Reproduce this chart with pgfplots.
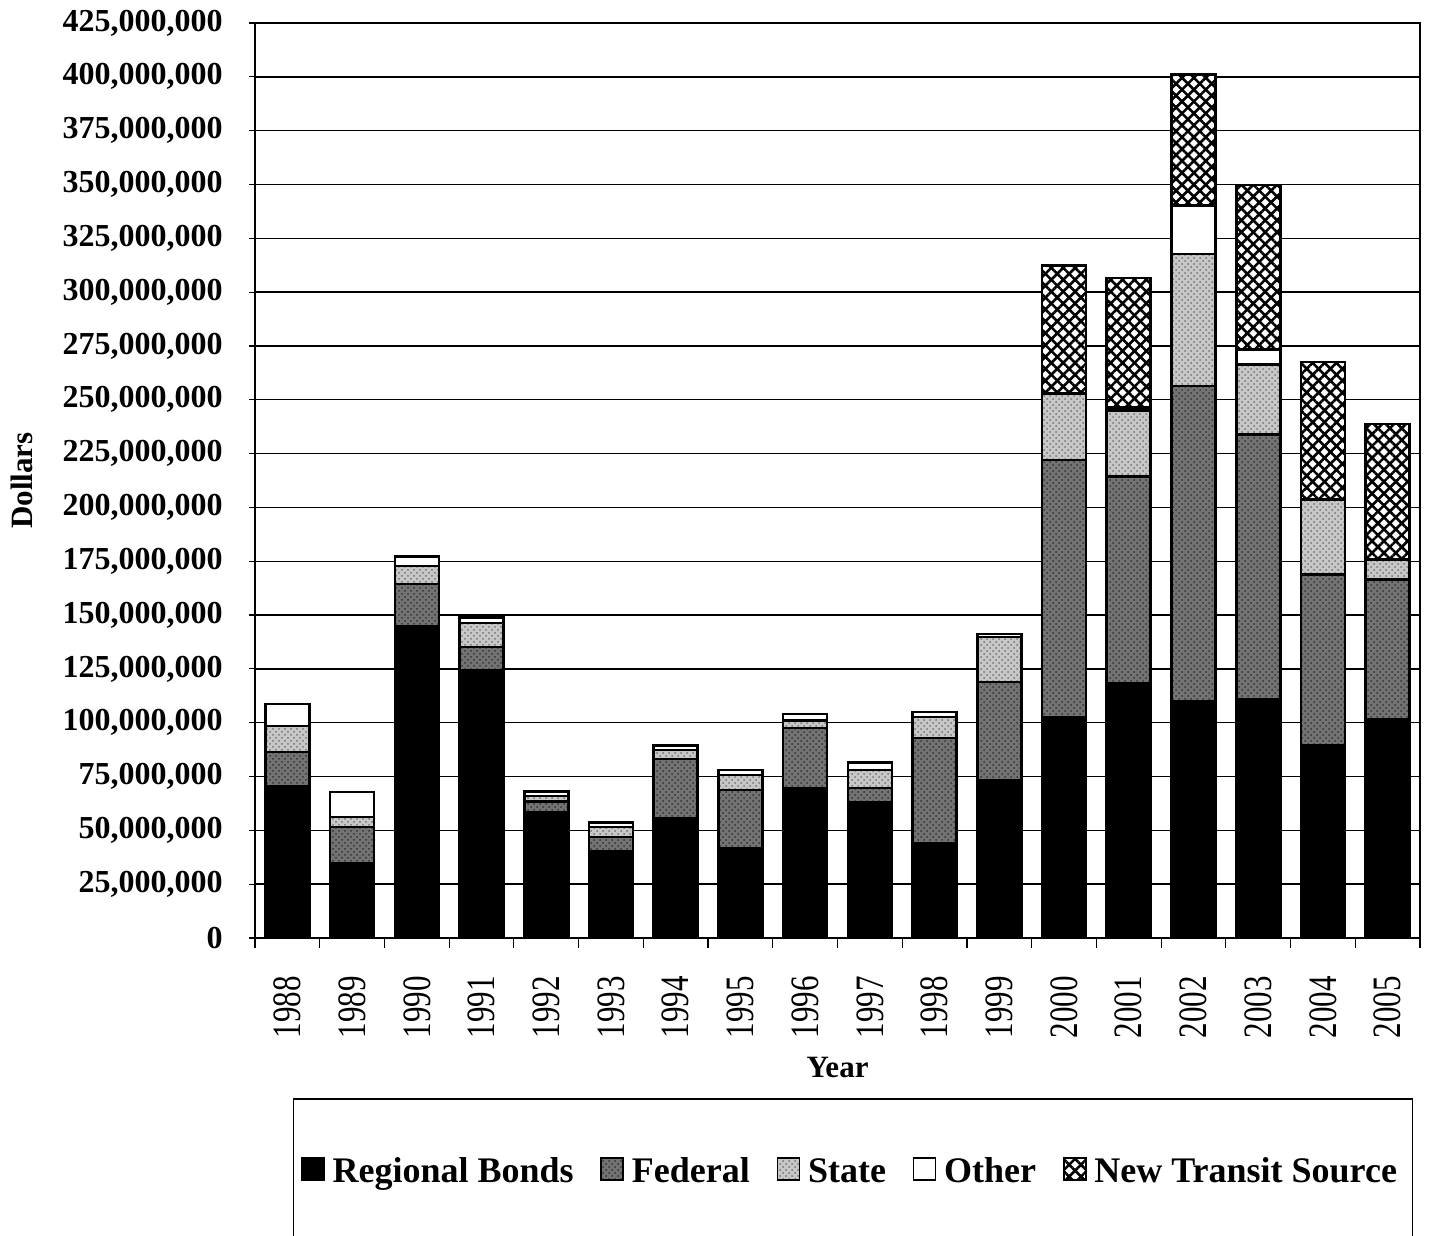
\documentclass[border=0pt]{standalone}
\usepackage{pgfplots}
\usepackage{pgfplotstable}
\usepackage{fontspec}
\setmainfont{Liberation Serif}
\pgfplotsset{compat=1.18}
\usetikzlibrary{patterns,patterns.meta}

% Transit capital funding by source, in millions of dollars
\pgfplotstableread{
i year rb    fed   state other nts
0  1988 70.6  15.8  12.1  10.2  0
1  1989 34.8  16.8  4.6   11.6  0
2  1990 144.9 19.5  8.4   4.3   0
3  1991 124.5 10.7  11.1  2.5   0
4  1992 58.5  5.0   2.5   2.0   0
5  1993 40.4  6.6   4.6   2.0   0
6  1994 55.7  27.4  4.2   2.0   0
7  1995 41.8  26.9  7.0   2.3   0
8  1996 69.7  27.8  3.5   3.0   0
9  1997 63.2  6.5   8.3   3.4   0
10 1998 44.1  48.8  9.8   2.3   0
11 1999 73.4  45.5  21.0  1.3   0
12 2000 102.6 119.4 31.0  0     59.5
13 2001 118.4 96.0  30.6  1.5   60.0
14 2002 110.1 146.3 61.3  22.5  60.8
15 2003 110.9 123.0 32.6  6.9   76.4
16 2004 89.4  79.5  34.7  0     63.9
17 2005 101.8 64.6  9.5   0     62.9
}\fundingdata

\newcommand{\tlab}[1]{\scalebox{1}[1.3]{#1}}

\tikzset{
  fedfill/.style={fill=black!55,
    postaction={pattern=crosshatch dots, pattern color=black!80}},
  statefill/.style={fill=black!22,
    postaction={pattern=crosshatch dots, pattern color=black!55}},
  hatchfill/.style={fill=white,
    postaction={pattern={Lines[angle=45,distance=4.2pt,line width=1.3pt]},pattern color=black},
    postaction={pattern={Lines[angle=-45,distance=4.2pt,line width=1.3pt]},pattern color=black}},
}

\begin{document}
\begin{tikzpicture}
\begin{axis}[
  scale only axis,
  width=582.5pt, height=457.5pt,
  ybar stacked,
  bar width=22pt,
  xmin=-0.5, xmax=17.5,
  ymin=0, ymax=425,
  xtick={0,...,17},
  xticklabels={\tlab{1988},\tlab{1989},\tlab{1990},\tlab{1991},\tlab{1992},\tlab{1993},
    \tlab{1994},\tlab{1995},\tlab{1996},\tlab{1997},\tlab{1998},\tlab{1999},
    \tlab{2000},\tlab{2001},\tlab{2002},\tlab{2003},\tlab{2004},\tlab{2005}},
  minor xtick={-0.5,0.5,...,17.5},
  major x tick style={draw=none},
  minor x tick style={black, line width=0.6pt},
  minor tick length=5pt,
  tick pos=left,
  ytick={0,25,...,425},
  yticklabels={0,{25,000,000},{50,000,000},{75,000,000},{100,000,000},{125,000,000},
    {150,000,000},{175,000,000},{200,000,000},{225,000,000},{250,000,000},
    {275,000,000},{300,000,000},{325,000,000},{350,000,000},{375,000,000},
    {400,000,000},{425,000,000}},
  tick align=outside,
  major tick length=3pt,
  y tick style={black, line width=0.6pt},
  axis line style={black, line width=0.9pt},
  ymajorgrids,
  major grid style={black, line width=0.7pt},
  yticklabel style={font=\bfseries\fontsize{16}{16}\selectfont, anchor=east, xshift=-13pt, inner sep=0pt},
  xticklabel style={yshift=-16pt, rotate=90, anchor=east, font=\fontsize{15.5}{15.5}\selectfont, inner sep=0pt},
  xlabel={Year},
  ylabel={Dollars},
  xlabel style={font=\bfseries\fontsize{15.5}{15.5}\selectfont, at={(axis description cs:0.5,-0.141)}, anchor=center},
  ylabel style={font=\bfseries\fontsize{15.5}{15.5}\selectfont, at={(axis description cs:-0.2,0.5)}, anchor=center},
  legend columns=-1,
  legend style={at={(0.5133,-0.255)}, anchor=center, draw=black, line width=0.6pt,
    inner xsep=4pt, inner ysep=29pt,
    font=\bfseries\fontsize{18}{18}\selectfont,
    nodes={inner xsep=3.9pt, inner ysep=0pt},
    /tikz/every even column/.append style={column sep=9.5pt}},
  sq/.style={legend image code/.code={\draw[##1, line width=0.8pt] (0pt,-4pt) rectangle (11pt,7pt);}},
]
\addplot[sq, fill=black, draw=black, line width=1.3pt] table[x=i, y=rb] {\fundingdata};
\addplot[sq, fedfill, draw=black, line width=1.3pt] table[x=i, y=fed] {\fundingdata};
\addplot[sq, statefill, draw=black, line width=1.3pt] table[x=i, y=state] {\fundingdata};
\addplot[sq, fill=white, draw=black, line width=1.3pt] table[x=i, y=other] {\fundingdata};
\addplot[sq, hatchfill, draw=black, line width=1.3pt] table[x=i, y=nts] {\fundingdata};
\legend{Regional Bonds, Federal, State, Other, New Transit Source}
\end{axis}
\pgfresetboundingbox
\path[use as bounding box] (-127.5pt,-149pt) rectangle (587pt,469pt);
\end{tikzpicture}
\end{document}
